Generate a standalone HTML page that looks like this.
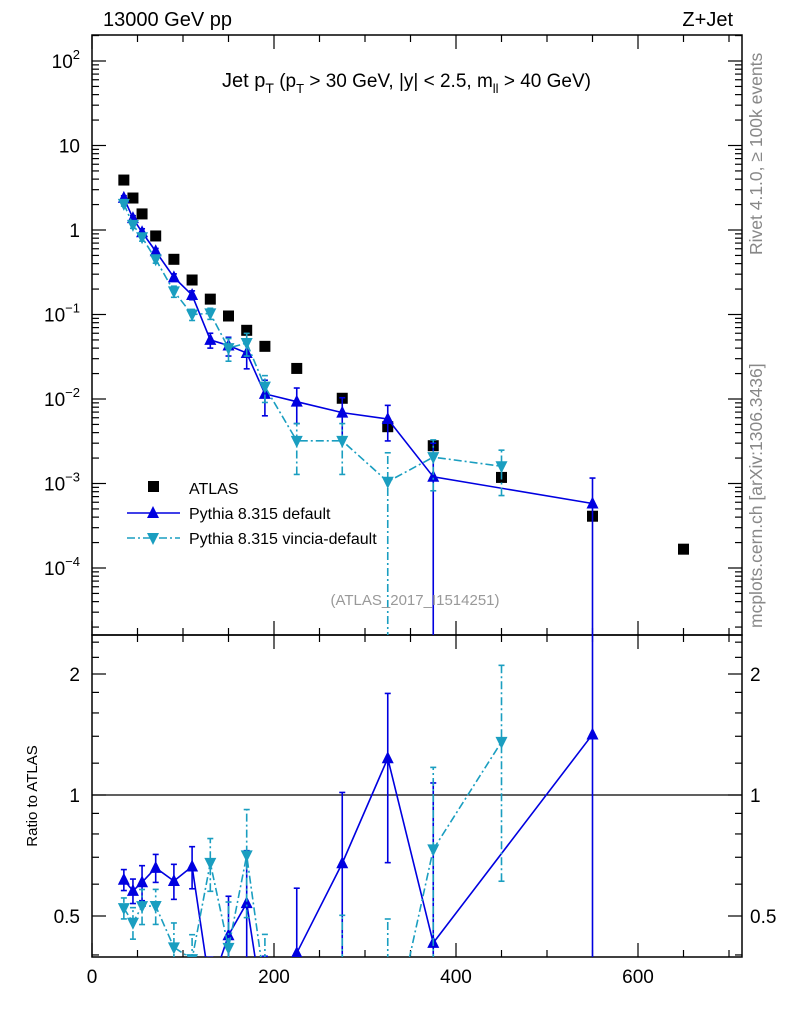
<!DOCTYPE html>
<html><head><meta charset="utf-8"><style>
html,body{margin:0;background:#fff;overflow:hidden;width:786px;height:1024px}
svg{font-family:"Liberation Sans",sans-serif;display:block}
</style></head><body>
<svg id="c" width="786" height="1024" xmlns="http://www.w3.org/2000/svg"></svg>
<script>
const categories=[35,45,55,70,90,110,130,150,170,190,225,275,325,375,450,550,650];
const atlasValues=[3.9,2.39,1.55,0.85,0.45,0.256,0.152,0.096,0.065,0.042,0.023,0.0102,0.0047,0.0028,0.00118,0.00041,0.000167];
const pythiaX=[35,45,55,70,90,110,130,150,170,190,225,275,325,375,550];
const pythiaValues=[2.4,1.38,0.94,0.56,0.275,0.17,0.05,0.043,0.035,0.0115,0.0093,0.0069,0.0058,0.0012,0.00058];
const pythiaErr=[0.06,0.07,0.1,0.08,0.1,0.12,0.2,0.25,0.35,0.45,0.45,0.5,0.45,1.5,1.0];
const vinciaX=[35,45,55,70,90,110,130,150,170,190,225,275,325,375,450];
const vinciaValues=[2.04,1.15,0.82,0.45,0.188,0.1,0.103,0.04,0.046,0.014,0.0032,0.0032,0.00105,0.00205,0.0016];
const vinciaErr=[0.06,0.09,0.1,0.1,0.15,0.15,0.15,0.3,0.3,0.35,0.6,0.6,1.2,0.6,0.55];
const xTicks=[0,200,400,600];
const yTicks=[2,1,0,-1,-2,-3,-4];
const rTicks=[0.5,1,2];

const NS="http://www.w3.org/2000/svg",svg=document.getElementById('c');
function el(t,a,p){const e=document.createElementNS(NS,t);for(const k in a)e.setAttribute(k,a[k]);(p||svg).appendChild(e);return e;}
const L=92,R=742,T=35,M=635,B=957;
const xs=v=>L+v*0.91;
const ys=v=>230-Math.log10(v)*84.5;
const rs=v=>795-Math.log2(v)*121;

const defs=el('defs',{});
const cp1=el('clipPath',{id:'cm'},defs);el('rect',{x:L,y:T,width:R-L,height:M-T},cp1);
const cp2=el('clipPath',{id:'cr'},defs);el('rect',{x:L,y:M,width:R-L,height:B-M},cp2);

let f=el('rect',{x:L,y:T,width:R-L,height:M-T,fill:'none',stroke:'#000','stroke-width':1.5});

f=el('rect',{x:L,y:M,width:R-L,height:B-M,fill:'none',stroke:'#000','stroke-width':1.5});


for(let v=0;v<=700;v+=50){const x=xs(v),maj=v%200===0,len=maj?14:7;
 for(const [y0,d] of [[T,1],[M,-1],[M,1],[B,-1]]) el('line',{x1:x,x2:x,y1:y0,y2:y0+d*len,stroke:'#000','stroke-width':1.2});}
xTicks.forEach(v=>{const t=el('text',{x:xs(v),y:983,'font-size':19,'text-anchor':'middle'});t.textContent=v;
 });
for(let d=-5;d<=2;d++)for(let m=1;m<10;m++){const v=m*Math.pow(10,d),y=ys(v);if(y<T||y>M)continue;const len=m===1?14:7;
 el('line',{x1:L,x2:L+len,y1:y,y2:y,stroke:'#000','stroke-width':1.2});el('line',{x1:R,x2:R-len,y1:y,y2:y,stroke:'#000','stroke-width':1.2});}
yTicks.forEach(d=>{const y=ys(Math.pow(10,d));let t=el('text',{x:80,y:y+7,'font-size':19,'text-anchor':'end'});
 if(d===0||d===1){t.textContent=d===0?'1':'10';}
 else if(d>0){t.innerHTML='10<tspan dy="-9" font-size="13">'+d+'</tspan>';}
 else{t.innerHTML='10<tspan dy="-9" font-size="13">\u2212'+(-d)+'</tspan>';}
 });
[0.4,0.5,0.6,0.7,0.8,0.9,1,1.2,1.4,1.6,1.8,2,2.2,2.4].forEach(v=>{const y=rs(v);if(y<M||y>B)return;const len=(v===0.5||v===1||v===2)?14:7;
 el('line',{x1:L,x2:L+len,y1:y,y2:y,stroke:'#000','stroke-width':1.2});el('line',{x1:R,x2:R-len,y1:y,y2:y,stroke:'#000','stroke-width':1.2});});
rTicks.forEach(v=>{for(const [x,a] of [[80,'end'],[750,'start']]){const t=el('text',{x:x,y:rs(v)+7,'font-size':19,'text-anchor':a});t.textContent=v;
 }});
let rl=el('line',{x1:L,x2:R,y1:rs(1),y2:rs(1),stroke:'#000','stroke-width':1.3});


const gm=el('g',{'clip-path':'url(#cm)'});
const gr=el('g',{'clip-path':'url(#cr)'});

function tri(g,x,y,col,up,name){const s=6;const pts=up?`${x},${y-s-1} ${x-s},${y+s-1} ${x+s},${y+s-1}`:`${x},${y+s+1} ${x-s},${y-s+1} ${x+s},${y-s+1}`;
 const p=el('polygon',{points:pts,fill:col},g);}
function series(X,V,E,col,up,dash,nm){
 const ratioV=V.map((v,i)=>v/atlasValues[categories.indexOf(X[i])]);
 for(const [g,sc,vals,bot] of [[gm,ys,V,M],[gr,rs,ratioV,B]]){
  const ln=el('polyline',{points:X.map((x,i)=>xs(x)+','+sc(vals[i])).join(' '),fill:'none',stroke:col,'stroke-width':1.6,'stroke-dasharray':dash},g);
  
  X.forEach((x,i)=>{const v=vals[i],e=E[i];const lo=v*(1-e),hi=v*(1+e);const px=xs(x);
   const y1=lo>0?Math.min(sc(lo),bot+5):bot+5,y2=sc(hi);
   const eb=el('line',{x1:px,x2:px,y1:y1,y2:y2,stroke:col,'stroke-width':1.6,'stroke-dasharray':dash},g);
   
   el('line',{x1:px-3,x2:px+3,y1:y2,y2:y2,stroke:col,'stroke-width':1.6},g);
   if(lo>0)el('line',{x1:px-3,x2:px+3,y1:y1,y2:y1,stroke:col,'stroke-width':1.6},g);
   tri(g,px,sc(v),col,up,nm+'-marker');});}
}
categories.forEach((x,i)=>{const r=el('rect',{x:xs(x)-5.5,y:ys(atlasValues[i])-5.5,width:11,height:11,fill:'#000'},gm);
 });
series(pythiaX,pythiaValues,pythiaErr,'#0000e0',true,'none','pythia-default');
series(vinciaX,vinciaValues,vinciaErr,'#1a9ec0',false,'8,3,2,3','pythia-vincia');

function txt(x,y,s,size,attrs,name){const t=el('text',Object.assign({x:x,y:y,'font-size':size},attrs||{}));t.innerHTML=s;
 return t;}
txt(103,26,'13000 GeV pp',20,{},'energy-label');
txt(733,26,'Z+Jet',20,{'text-anchor':'end'},'process-label');
txt(222,87,'Jet p<tspan dy="6" font-size="14">T</tspan><tspan dy="-6" font-size="19"> (p</tspan><tspan dy="6" font-size="13">T</tspan><tspan dy="-6" font-size="19"> &gt; 30 GeV, |y| &lt; 2.5, m</tspan><tspan dy="6" font-size="13">ll</tspan><tspan dy="-6" font-size="19"> &gt; 40 GeV)</tspan>',20,{},'plot-title');
txt(415,605,'(ATLAS_2017_I1514251)',15,{fill:'#999','text-anchor':'middle'},'analysis-id');
txt(0,0,'Rivet 4.1.0, \u2265 100k events',17.5,{fill:'#888',transform:'translate(762,255) rotate(-90)'},'rivet-label');
txt(0,0,'mcplots.cern.ch [arXiv:1306.3436]',17.5,{fill:'#888',transform:'translate(762,628) rotate(-90)'},'mcplots-label');
txt(0,0,'Ratio to ATLAS',15,{'text-anchor':'middle',transform:'translate(37,796) rotate(-90)'},'ratio-y-title');
let lg=el('g',{});
el('rect',{x:148,y:481,width:11,height:11,fill:'#000'},lg);
txt(189,494,'ATLAS',16,{},'legend-atlas');
el('line',{x1:127,x2:180,y1:513,y2:513,stroke:'#0000e0','stroke-width':1.6},lg);tri(lg,153,513,'#0000e0',true,'legend-pythia-marker');
txt(189,519,'Pythia 8.315 default',16,{},'legend-pythia-default');
el('line',{x1:127,x2:180,y1:538,y2:538,stroke:'#1a9ec0','stroke-width':1.6,'stroke-dasharray':'8,3,2,3'},lg);tri(lg,153,538,'#1a9ec0',false,'legend-vincia-marker');
txt(189,544,'Pythia 8.315 vincia-default',16,{},'legend-pythia-vincia');
</script>
</body></html>
